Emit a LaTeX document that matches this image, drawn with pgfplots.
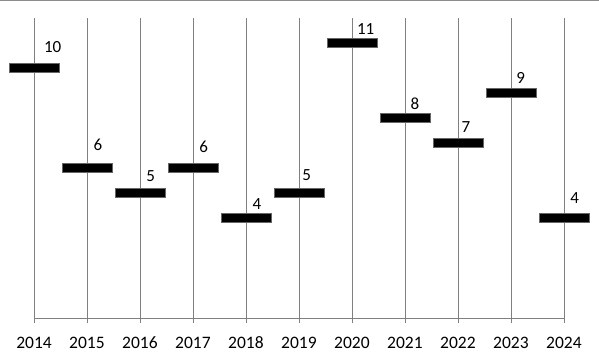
\documentclass[border=0pt]{standalone}
\usepackage{pgfplots}
\usepackage{pgfplotstable}
\pgfplotsset{compat=1.18}
\usepackage{fontspec}
\setmainfont{Carlito}
\pgfdeclareplotmark{hbar}{%
  \pgfpathrectangle{\pgfpoint{-25pt}{-4.6pt}}{\pgfpoint{50pt}{9.2pt}}%
  \pgfusepathqfillstroke}
\pgfplotstableread{
x y dx dy
2014 10 18.7 16
2015 6 11 18
2016 5 10.7 11.6
2017 6 10.7 15.7
2018 4 11 8.6
2019 5 7.7 13
2020 11 13.7 9
2021 8 10 8.6
2022 7 8 11
2023 9 9.7 9.3
2024 4 10.7 14.3
}\datatab
\begin{document}
\begin{tikzpicture}
\useasboundingbox (0,0) rectangle (599pt,360pt);
\fill[white] (0,0) rectangle (599pt,360pt);
\draw[gray!90, line width=1pt] (0,359.5pt) -- (599pt,359.5pt);
\begin{axis}[
  at={(34pt,42pt)}, anchor=south west,
  scale only axis, width=530pt, height=300pt,
  xmin=2014, xmax=2024, ymin=0, ymax=12,
  clip=false,
  axis x line*=bottom, axis y line=none,
  axis line style={gray, line width=0.8pt},
  xtick={2014,...,2024},
  xtick align=outside,
  major tick length=5pt,
  tick style={gray, line width=0.8pt},
  xmajorgrids,
  grid style={gray, line width=0.8pt},
  xticklabel style={font=\fontsize{17.5}{20}\selectfont, text=black, anchor=north, inner sep=0pt, text height=12pt, text depth=0pt},
  xticklabel shift=13pt,
  /pgf/number format/.cd, 1000 sep={}, assume math mode=true,
]
\addplot[only marks, mark=hbar, mark options={fill=black, draw=gray!80!black, line width=0.8pt},
  visualization depends on={\thisrow{dx}\as\dx},
  visualization depends on={\thisrow{dy}\as\dy},
  nodes near coords,
  point meta=explicit,
  every node near coord/.append style={anchor=base, inner sep=0pt, xshift=\dx pt, yshift=\dy pt, font=\fontsize{17}{20}\selectfont, text=black, /pgf/number format/assume math mode=true, /pgf/number format/precision=0},
] table[x=x, y=y, meta=y] {\datatab};
\end{axis}
\end{tikzpicture}
\end{document}
